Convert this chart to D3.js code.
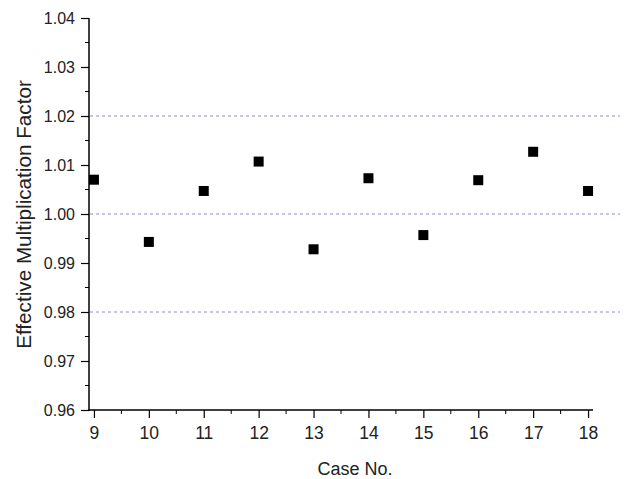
<!DOCTYPE html>
<html><head><meta charset="utf-8">
<script src="https://cdn.jsdelivr.net/npm/d3@7"></script>
<style>body{margin:0;background:#fff}</style>
</head><body>
<svg id="c" width="632" height="479"></svg>
<script>
const cases = [9,10,11,12,13,14,15,16,17,18];
const keff = [1.0070,0.9943,1.0047,1.0107,0.9928,1.0073,0.9957,1.0069,1.0127,1.0047];
const yTicks = [0.96,0.97,0.98,0.99,1.00,1.01,1.02,1.03,1.04];
const xTicks = [9,10,11,12,13,14,15,16,17,18];
const refLines = [0.98,1.00,1.02];

const svg = d3.select('#c');
const x = d3.scaleLinear().domain([8.91,18.09]).range([89,593]);
const y = d3.scaleLinear().domain([0.96,1.04]).range([410,18]);
const font = '"Liberation Sans",Arial,sans-serif';

// reference dashed lines
svg.append('g').selectAll('line').data(refLines).join('line')
  .attr('x1',90).attr('x2',620).attr('y1',d=>y(d)).attr('y2',d=>y(d))
  .attr('stroke','#8c8cd8').attr('stroke-width',1).attr('stroke-dasharray','3,3');

// y axis
const yMinor = d3.range(0.965,1.04,0.01);
const gy = svg.append('g').attr('transform','translate(89,0)')
  .call(d3.axisLeft(y).tickValues(yTicks).tickFormat(d3.format('.2f')).tickSize(8).tickPadding(6));
gy.selectAll('.tick text').style('font-family',font).style('font-size','16px').attr('fill','#222');
gy.append('g').selectAll('line').data(yMinor).join('line')
  .attr('x1',0).attr('x2',-4).attr('y1',d=>y(d)).attr('y2',d=>y(d)).attr('stroke','#000');

// x axis
const xMinor = d3.range(9.5,18,1);
const gx = svg.append('g').attr('transform','translate(0,410)')
  .call(d3.axisBottom(x).tickValues(xTicks).tickFormat(d3.format('d')).tickSize(8).tickPadding(9));
gx.selectAll('.tick text').style('font-family',font).style('font-size','17.5px').attr('fill','#222');
gx.append('g').selectAll('line').data(xMinor).join('line')
  .attr('y1',0).attr('y2',4).attr('x1',d=>x(d)).attr('x2',d=>x(d)).attr('stroke','#000');

[gx,gy].forEach(g=>{
  g.select('.domain').attr('stroke','#000').attr('stroke-width',1.5);
  g.selectAll('.tick line').attr('stroke','#000').attr('stroke-width',1.2);
});
gy.select('.domain').attr('d','M0,18V410.75');
gx.select('.domain').attr('d','M88.25,0H593');

// points
svg.append('g').selectAll('rect').data(cases).join('rect')
  .attr('x',(d,i)=>x(d)-5).attr('y',(d,i)=>y(keff[i])-5)
  .attr('width',10).attr('height',10).attr('fill','#000');

// labels
svg.append('text').attr('x',355).attr('y',475).attr('text-anchor','middle')
  .style('font-family',font).style('font-size','18px').attr('fill','#222').text('Case No.');
svg.append('text').attr('transform','translate(31,214.5) rotate(-90)').attr('text-anchor','middle')
  .style('font-family',font).style('font-size','20.7px').attr('fill','#222')
  .text('Effective Multiplication Factor');
</script>
</body></html>
